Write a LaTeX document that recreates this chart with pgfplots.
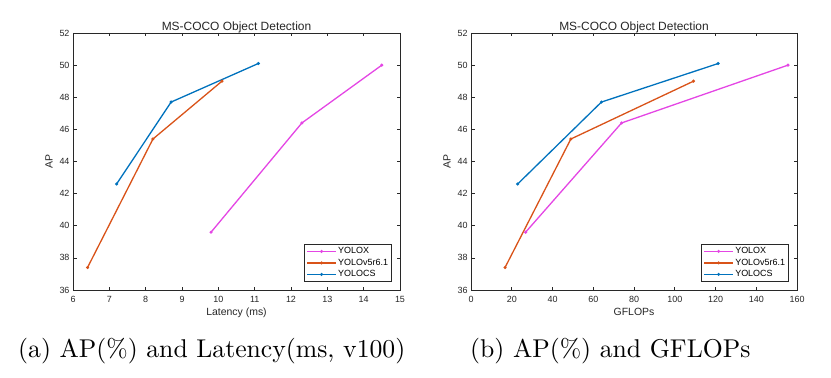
\documentclass[border=0pt]{standalone}
\usepackage{pgfplots}
\pgfplotsset{compat=1.18}
\usepackage{fontspec}
\newfontfamily\arial{Liberation Sans}
\newfontfamily\lmten{lmroman10-regular.otf}
\definecolor{cx}{RGB}{228,70,228}
\definecolor{cv}{RGB}{217,83,25}
\definecolor{cc}{RGB}{0,114,189}
\definecolor{axgray}{RGB}{40,40,40}
\pgfplotsset{
  matstyle/.style={
    scale only axis, width=327bp, height=257bp, anchor=south west,
    ymin=36, ymax=52, ytick={36,38,...,52},
    tick align=inside, tick pos=both,
    major tick length=3.5bp,
    /pgf/number format/assume math mode=true,
    tick label style={font=\arial\fontsize{9}{10}\selectfont, text=black!85},
    xticklabel style={yshift=-3bp},
    label style={font=\arial\fontsize{10.5}{12}\selectfont, text=black!85},
    xlabel style={yshift=2bp},
    title style={font=\arial\fontsize{12}{14}\selectfont, yshift=-9bp, text=black!85},
    title={MS-COCO Object Detection},
    ylabel={AP},
    axis line style={axgray, line width=0.7bp},
    every tick/.style={axgray, line width=0.6bp},
    legend style={at={(0.9755,0.031)}, anchor=south east, font=\arial\fontsize{9}{10}\selectfont,
      draw=axgray, line width=0.8bp, row sep=0bp, inner xsep=2bp, inner ysep=1.5bp,
      nodes={text height=7bp, text depth=2.5bp, inner ysep=1bp, inner xsep=1.5bp}},
    legend cell align=left,
    legend image code/.code={\draw[#1, line width=1.3bp, mark=none] (0bp,0bp) -- (29bp,0bp); \fill[#1] (14.5bp,0bp) circle (0.8bp);},
    every axis plot/.append style={line width=1.3bp, mark=*, mark size=0.8bp},
  }
}
\begin{document}
\begin{tikzpicture}[x=1bp,y=1bp]
\path (0,0) rectangle (831,377);
\begin{axis}[matstyle, at={(73bp,87bp)}, xmin=6, xmax=15, xtick={6,...,15}, xlabel={Latency (ms)}]
\addplot[cx] coordinates {(9.8,39.6) (12.3,46.4) (14.5,50.0)};
\addlegendentry{YOLOX}
\addplot[cv] coordinates {(6.4,37.4) (8.2,45.4) (10.1,49.0)};
\addlegendentry{YOLOv5r6.1}
\addplot[cc] coordinates {(7.2,42.6) (8.7,47.7) (11.1,50.1)};
\addlegendentry{YOLOCS}
\end{axis}
\begin{axis}[matstyle, at={(471bp,87bp)}, width=326bp, xmin=0, xmax=160, xtick={0,20,...,160}, xlabel={GFLOPs},
  legend style={at={(0.9755,0.031)}}]
\addplot[cx] coordinates {(26.8,39.6) (73.9,46.4) (155.6,50.0)};
\addlegendentry{YOLOX}
\addplot[cv] coordinates {(16.7,37.4) (49.0,45.4) (109.2,49.0)};
\addlegendentry{YOLOv5r6.1}
\addplot[cc] coordinates {(22.9,42.6) (64.0,47.7) (121.3,50.1)};
\addlegendentry{YOLOCS}
\end{axis}
\node[anchor=base west, inner sep=0, font=\lmten\fontsize{25.8}{30}\selectfont] at (18,20) {(a) AP(\%) and Latency(ms, v100)};
\node[anchor=base west, inner sep=0, font=\lmten\fontsize{25.8}{30}\selectfont] at (470,20) {(b) AP(\%) and GFLOPs};
\end{tikzpicture}
\end{document}
